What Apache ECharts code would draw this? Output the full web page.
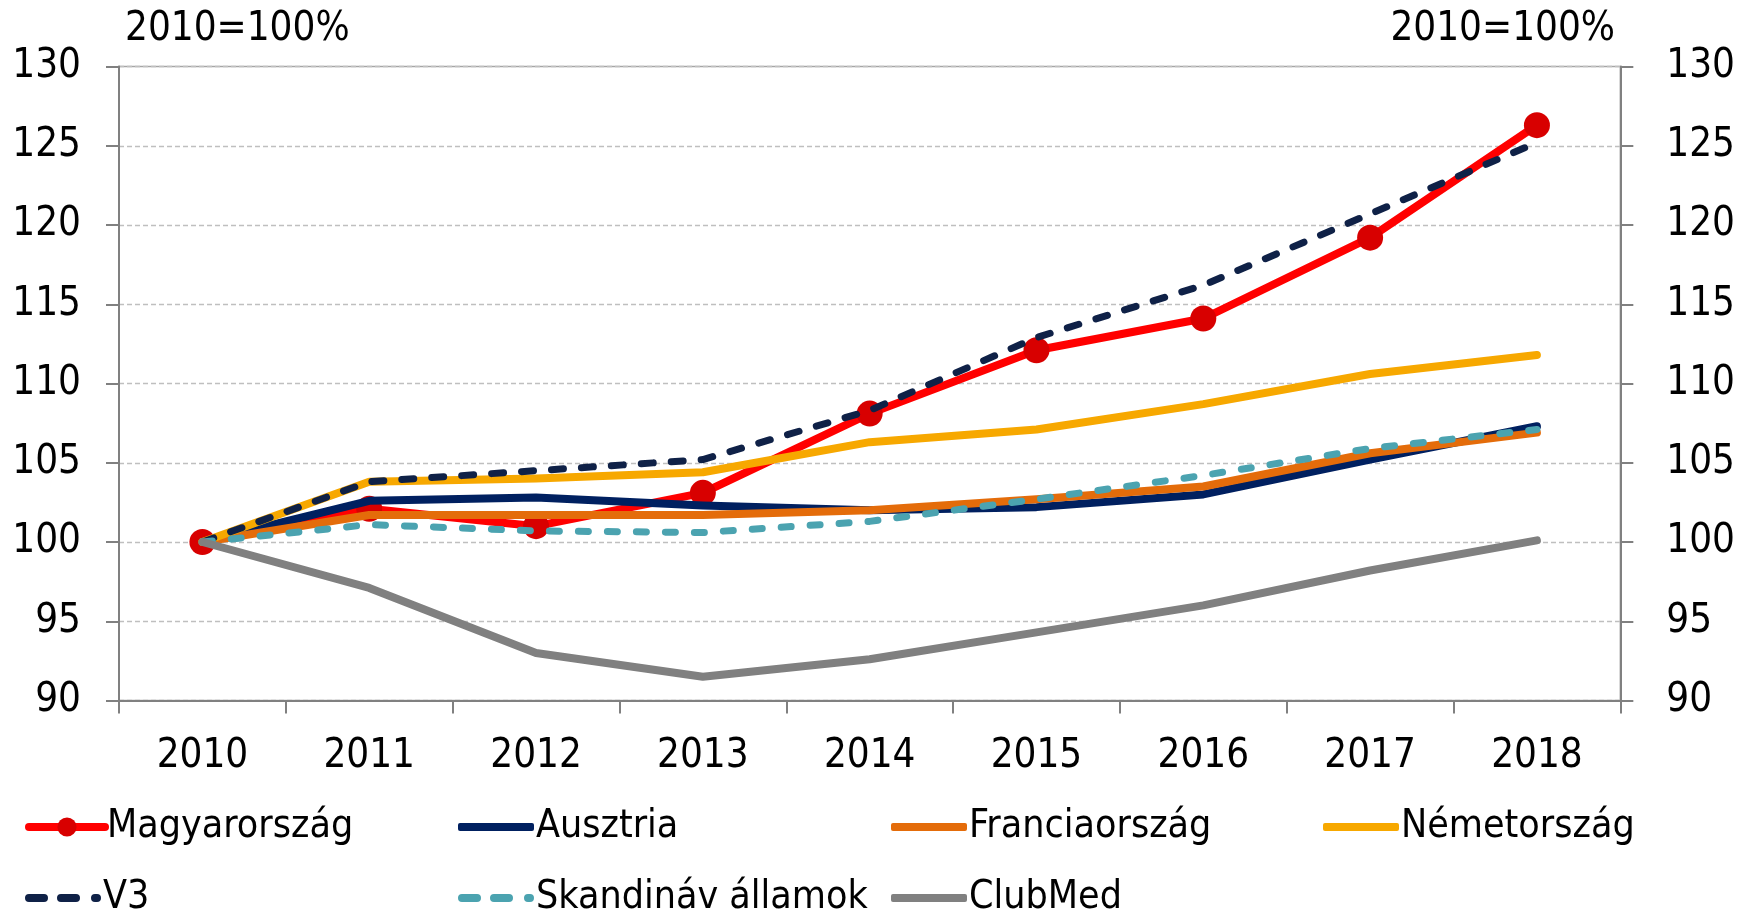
<!DOCTYPE html>
<html>
<head>
<meta charset="utf-8">
<script src="https://cdn.jsdelivr.net/npm/echarts@6/dist/echarts.min.js"></script>
<style>
  html, body { margin: 0; padding: 0; background: #fff; }
  #chart { width: 1738px; height: 912px; }
</style>
</head>
<body>
<div id="chart"></div>
<script>
// évek
const years = ['2010', '2011', '2012', '2013', '2014', '2015', '2016', '2017', '2018'];

// 2010 = 100%
const magyarorszag = [100, 102.1, 101.0, 103.1, 108.1, 112.1, 114.1, 119.2, 126.3];
const ausztria = [100, 102.6, 102.8, 102.3, 102.0, 102.2, 103.0, 105.2, 107.3];
const franciaorszag = [100, 101.7, 101.7, 101.7, 102.0, 102.7, 103.5, 105.6, 106.9];
const nemetorszag = [100, 103.8, 104.0, 104.4, 106.3, 107.1, 108.7, 110.6, 111.8];
const v3 = [100, 103.8, 104.5, 105.2, 108.3, 112.9, 116.2, 120.7, 125.2];
const skandinav = [100, 101.1, 100.7, 100.6, 101.3, 102.7, 104.2, 105.9, 107.1];
const clubMed = [100, 97.1, 93.0, 91.5, 92.6, 94.3, 96.0, 98.2, 100.1];

const unitLabel = '2010=100%';

const FONT = "'Liberation Sans Narrow', 'Arial Narrow', 'DejaVu Sans Condensed', sans-serif";
const FS = 40;

const lineSeries = (name, data, color, opts) => Object.assign({
  name,
  type: 'line',
  data,
  symbol: 'none',
  z: 3,
  lineStyle: { color, width: 8, cap: 'round', join: 'round' },
  itemStyle: { color },
  emphasis: { disabled: true },
}, opts || {});

// szaggatott jelmagyarázat ikon (3 darab)
const dashIcon = 'path://M4,0h15a4,4 0 0 1 0,8h-15a4,4 0 0 1 0,-8z'
  + 'M36,0h15a4,4 0 0 1 0,8h-15a4,4 0 0 1 0,-8z'
  + 'M70,0h2a4,4 0 0 1 0,8h-2a4,4 0 0 1 0,-8z';

// legend: elemenként külön, rácsba rakva
// [név, bal, felső, ikon]
const legendPos = [
  ['Magyarország', 25, 804, null],
  ['Ausztria', 458, 804, 'roundRect'],
  ['Franciaország', 891, 804, 'roundRect'],
  ['Németország', 1323, 804, 'roundRect'],
  ['V3', 25, 875, dashIcon],
  ['Skandináv államok', 458, 875, dashIcon],
  ['ClubMed', 891, 875, 'roundRect'],
];

const yAxisBase = (position, margin) => ({
  type: 'value',
  position,
  min: 90,
  max: 130,
  interval: 5,
  axisLine: { show: true, lineStyle: { color: '#808080', width: 2 } },
  axisTick: { show: true, length: 13, lineStyle: { color: '#808080', width: 2 } },
  axisLabel: { fontFamily: FONT, fontSize: FS, color: '#000', margin },
  splitLine: position === 'left'
    ? { show: true, lineStyle: { color: '#BFBFBF', width: 1.3, type: [5, 3] } }
    : { show: false },
});

const option = {
  animation: false,
  backgroundColor: '#fff',
  textStyle: { fontFamily: FONT },
  grid: {
    left: 119,
    right: 112,
    top: 66.5,
    bottom: 211.5,
    show: true,
    borderColor: '#A6A6A6',
    borderWidth: 1.5,
  },
  title: [
    { text: unitLabel, left: 125, top: 10, padding: 0, textStyle: { fontFamily: FONT, fontSize: FS, fontWeight: 'normal', color: '#000' } },
    { text: unitLabel, right: 123, top: 10, padding: 0, textStyle: { fontFamily: FONT, fontSize: FS, fontWeight: 'normal', color: '#000' } },
  ],
  legend: legendPos.map(([name, left, top, icon]) => {
    const lg = {
      data: [name],
      left,
      top,
      padding: 0,
      itemWidth: 76,
      itemHeight: icon ? 8 : 24,
      itemGap: 0,
      selectedMode: false,
      textStyle: { fontFamily: FONT, fontSize: 39, color: '#000', lineHeight: 46, padding: [0, 0, 0, -3] },
    };
    if (icon) lg.icon = icon;
    else lg.lineStyle = { width: 8 };
    return lg;
  }),
  xAxis: {
    type: 'category',
    data: years,
    boundaryGap: true,
    axisLine: { show: true, lineStyle: { color: '#808080', width: 2 } },
    axisTick: { show: true, length: 13, inside: false, lineStyle: { color: '#808080', width: 2 } },
    axisLabel: { fontFamily: FONT, fontSize: FS, color: '#000', margin: 36 },
    splitLine: { show: false },
  },
  yAxis: [yAxisBase('left', 38), yAxisBase('right', 46)],
  series: [
    lineSeries('Magyarország', magyarorszag, '#FF0000', {
      symbol: 'circle',
      symbolSize: 26,
      showSymbol: true,
      z: 1,
      itemStyle: { color: '#D80000' },
    }),
    lineSeries('Ausztria', ausztria, '#002060'),
    lineSeries('Franciaország', franciaorszag, '#E46C0A'),
    lineSeries('Németország', nemetorszag, '#F7A800'),
    lineSeries('V3', v3, '#0F2147', { lineStyle: { color: '#0F2147', width: 7, type: [12, 18], cap: 'round' } }),
    lineSeries('Skandináv államok', skandinav, '#4BA3B0', { lineStyle: { color: '#4BA3B0', width: 7, type: [10, 19], cap: 'round' } }),
    lineSeries('ClubMed', clubMed, '#808080'),
  ],
};

const myChart = echarts.init(document.getElementById('chart'));
myChart.setOption(option);
</script>
</body>
</html>
